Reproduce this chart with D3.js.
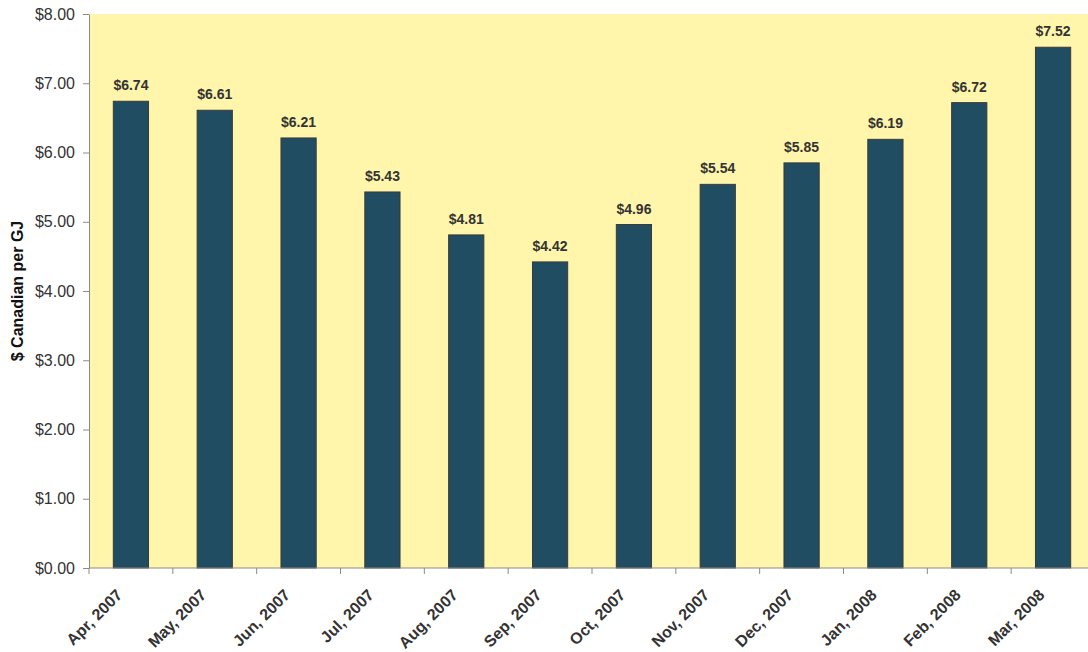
<!DOCTYPE html>
<html>
<head>
<meta charset="utf-8">
<script src="https://cdn.jsdelivr.net/npm/d3@7"></script>
<style>
  html, body { margin: 0; padding: 0; background: #ffffff; }
  svg { display: block; font-family: "Liberation Sans", Arial, Helvetica, sans-serif; }
</style>
</head>
<body>
<svg id="chart" width="1088" height="652"></svg>
<script>
// Monthly average gas price, $ Canadian per GJ
const months = ["Apr, 2007", "May, 2007", "Jun, 2007", "Jul, 2007", "Aug, 2007", "Sep, 2007",
                "Oct, 2007", "Nov, 2007", "Dec, 2007", "Jan, 2008", "Feb, 2008", "Mar, 2008"];
const prices = [6.74, 6.61, 6.21, 5.43, 4.81, 4.42, 4.96, 5.54, 5.85, 6.19, 6.72, 7.52];
const yTicks = [0, 1, 2, 3, 4, 5, 6, 7, 8];

const svg = d3.select("#chart");
const margin = { top: 14, left: 89, bottom: 84, right: -7 };
const W = 1088, H = 652;
const innerW = W - margin.left - margin.right;
const innerH = H - margin.top - margin.bottom;

const g = svg.append("g").attr("transform", `translate(${margin.left},${margin.top})`);

const x = d3.scaleBand().domain(months).range([0, innerW]).paddingInner(0.58).paddingOuter(0.29);
const y = d3.scaleLinear().domain([0, 8]).range([innerH, 0]);

// plot background
g.append("rect")
  .attr("x", 0).attr("y", 0)
  .attr("width", innerW).attr("height", innerH)
  .attr("fill", "#FFF6AC");

// bars
g.selectAll("rect.bar")
  .data(prices)
  .join("rect")
  .attr("class", "bar")
  .attr("x", (d, i) => x(months[i]))
  .attr("y", d => y(d))
  .attr("width", x.bandwidth())
  .attr("height", d => innerH - y(d))
  .attr("fill", "#214D63")
  .attr("stroke", "#3a3a3a")
  .attr("stroke-width", 1);

// value labels
g.selectAll("text.val")
  .data(prices)
  .join("text")
  .attr("class", "val")
  .attr("x", (d, i) => x(months[i]) + x.bandwidth() / 2)
  .attr("y", d => y(d) - 11)
  .attr("text-anchor", "middle")
  .attr("font-size", 14)
  .attr("font-weight", "bold")
  .attr("fill", "#333333")
  .text(d => "$" + d.toFixed(2));

// y axis
const yAxis = g.append("g")
  .call(d3.axisLeft(y).tickValues(yTicks).tickSize(6).tickSizeOuter(0).tickPadding(8)
    .tickFormat(d => "$" + d3.format(".2f")(d)));
yAxis.select(".domain").attr("stroke", "#8a8a8a");
yAxis.selectAll(".tick line").attr("stroke", "#8a8a8a");
yAxis.selectAll(".tick text")
  .attr("font-size", 16)
  .attr("fill", "#333333")
  .attr("font-family", "Liberation Sans, Arial, sans-serif");

// x axis: ticks at band boundaries
const xAxisG = g.append("g").attr("transform", `translate(0,${innerH})`);
xAxisG.append("line")
  .attr("x1", 0).attr("x2", innerW)
  .attr("y1", 0).attr("y2", 0)
  .attr("stroke", "#8a8a8a");
const step = x.step();
const bounds = d3.range(months.length + 1).map(i => x(months[0]) - (step - x.bandwidth()) / 2 + i * step);
xAxisG.selectAll("line.tk")
  .data(bounds)
  .join("line")
  .attr("class", "tk")
  .attr("x1", d => d).attr("x2", d => d)
  .attr("y1", 0).attr("y2", 6)
  .attr("stroke", "#8a8a8a");

xAxisG.selectAll("text.cat")
  .data(months)
  .join("text")
  .attr("class", "cat")
  .attr("text-anchor", "end")
  .attr("font-size", 16)
  .attr("font-weight", "bold")
  .attr("fill", "#333333")
  .attr("transform", d => `translate(${x(d) + x.bandwidth() / 2 - 7.5},${28}) rotate(-45)`)
  .text(d => d);

// y axis title
svg.append("text")
  .attr("transform", `translate(23,${margin.top + innerH / 2}) rotate(-90)`)
  .attr("text-anchor", "middle")
  .attr("font-size", 16)
  .attr("font-weight", "bold")
  .attr("fill", "#111111")
  .text("$ Canadian per GJ");
</script>
</body>
</html>
